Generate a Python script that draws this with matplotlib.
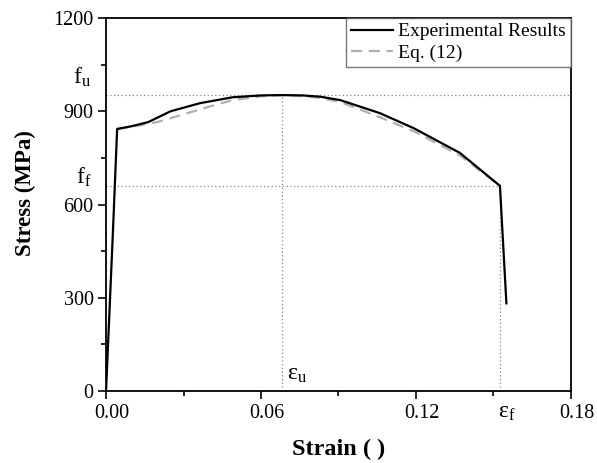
import matplotlib
matplotlib.use("Agg")
import matplotlib.pyplot as plt
import matplotlib.transforms as mtransforms
from matplotlib.ticker import MultipleLocator

plt.rcParams['font.family'] = ['Liberation Serif', 'DejaVu Serif']
plt.rcParams['mathtext.fontset'] = 'custom'
plt.rcParams['mathtext.rm'] = 'Liberation Serif'
plt.rcParams['mathtext.it'] = 'Liberation Serif'

# Experimental stress-strain data
exp_strain = [0.0, 0.0027, 0.0043, 0.0100, 0.0163, 0.0250, 0.0364, 0.0490, 0.0600,
              0.0680, 0.0760, 0.0828, 0.0906, 0.1060, 0.1190, 0.1370, 0.1525, 0.1550]
exp_stress = [0, 518, 843, 852, 865, 900, 926, 945, 951,
              952, 951, 947, 936, 894, 846, 766, 660, 282]

# Eq. (12) prediction
eq_strain = [0.0043, 0.0100, 0.0197, 0.0300, 0.0400, 0.0490, 0.0600, 0.0680,
             0.0760, 0.0828, 0.0906, 0.1060, 0.1190, 0.1370, 0.1525]
eq_stress = [843, 850, 865, 890, 915, 936, 948, 952,
             949, 943, 930, 881, 836, 758, 660]

f_u, f_f = 952, 660
eps_u, eps_f = 0.068, 0.1525

xticks = [0.00, 0.06, 0.12, 0.18]
xticklabels = ['0.00', '0.06', '0.12', '0.18']
yticks = [0, 300, 600, 900, 1200]

fig = plt.figure(figsize=(5.97, 4.63), dpi=100)
ax = fig.add_axes([0.1776, 0.1555, 0.7788, 0.8056])

ax.plot(exp_strain, exp_stress, color='black', lw=1.6, label='Experimental Results', zorder=3)
ax.plot(eq_strain, eq_stress, color='#b0b0b0', lw=1.6, ls=(0, (5, 3)), label='Eq. (12)', zorder=2)

dot = dict(color='#888888', lw=0.9, ls=(0, (1, 2)), zorder=1)
ax.plot([0, 0.18], [f_u, f_u], **dot)
ax.plot([0, eps_f], [f_f, f_f], **dot)
ax.plot([eps_u, eps_u], [0, f_u], **dot)
ax.plot([eps_f, eps_f], [0, f_f], **dot)

ax.set_xlim(0, 0.18)
ax.set_ylim(0, 1200)
ax.set_xticks(xticks)
ax.set_xticklabels(xticklabels)
ax.set_yticks(yticks)
ax.xaxis.set_minor_locator(MultipleLocator(0.03))
ax.yaxis.set_minor_locator(MultipleLocator(150))
ax.tick_params(which='both', direction='out', top=False, right=False, width=1.2)
ax.tick_params(which='major', length=5.5, pad=3.5, labelsize=14.5)
ax.tick_params(which='minor', length=3.5)
for s in ax.spines.values():
    s.set_linewidth(1.3)

shift = mtransforms.ScaledTranslation(6 / 100, 0, fig.dpi_scale_trans)
for lab in ax.get_xticklabels():
    lab.set_transform(lab.get_transform() + shift)

ax.set_xlabel('Strain ( )', fontsize=17.5, fontweight='bold', labelpad=12)
ax.set_ylabel('Stress (MPa)', fontsize=16.5, fontweight='bold')
ax.yaxis.set_label_coords(-0.150, 0.531)

# Annotations
ax.text(-0.0058, 988, r'f$_\mathrm{u}$', fontsize=17, ha='right', va='baseline')
ax.text(-0.0058, 668, r'f$_\mathrm{f}$', fontsize=17, ha='right', va='baseline')
ax.text(0.0702, 35, r'$\mathrm{\varepsilon}_\mathrm{u}$', fontsize=17, ha='left', va='baseline')
ax.text(0.1517, -87, r'$\mathrm{\varepsilon}_\mathrm{f}$', fontsize=17, ha='left', va='baseline',
        clip_on=False)

leg = ax.legend(loc='upper right', borderaxespad=0, fontsize=14, frameon=True,
                fancybox=False, handlelength=2.2, handletextpad=0.25,
                borderpad=0.25, labelspacing=0.2)
leg.get_frame().set_edgecolor('#555555')
leg.get_frame().set_linewidth(1.0)

fig.savefig('out.png', dpi=100)
